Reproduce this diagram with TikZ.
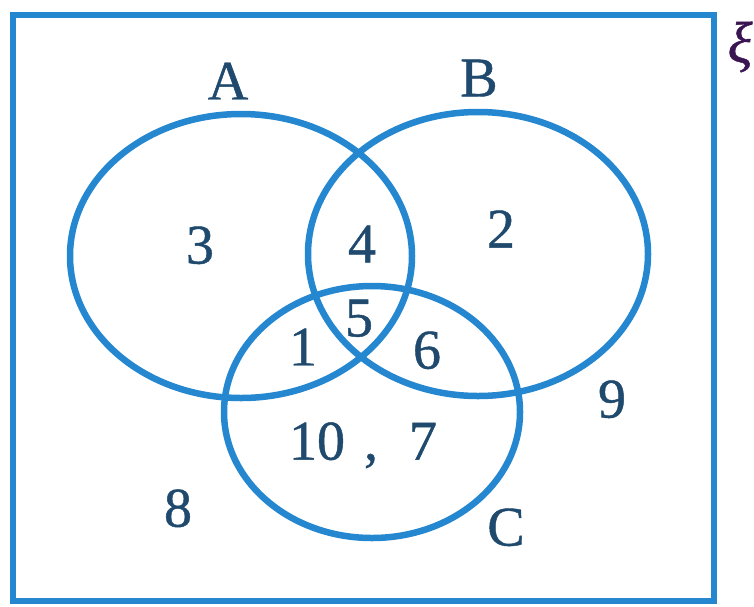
\documentclass[tikz,border=0pt]{standalone}
\usepackage{fontspec}
\setmainfont{Liberation Serif}
\newfontfamily\vennfont{Liberation Serif}[FakeBold=0.8]
\usepackage{xcolor}
\definecolor{vennblue}{HTML}{2487CF}
\definecolor{labelnavy}{HTML}{1F4A6E}
\definecolor{xipurple}{HTML}{3A1552}

\begin{document}
\begin{tikzpicture}[
  x=1pt, y=-1pt,
  setline/.style={draw=vennblue, line width=6.5pt},
  frame/.style={draw=vennblue, line width=6pt},
  lbl/.style={text=labelnavy, font=\vennfont\fontsize{56}{56}\selectfont, inner sep=0pt, text depth=0pt},
  setname/.style={text=labelnavy, font=\vennfont\fontsize{56}{56}\selectfont, inner sep=0pt, text depth=0pt}
]
\useasboundingbox (0,0) rectangle (754,606);

\draw[frame] (13,15) rectangle (714,601);

\draw[setline] (241,256) ellipse (171pt and 142pt);
\draw[setline] (478,254) ellipse (170pt and 142pt);
\draw[setline] (372,412) ellipse (148pt and 126pt);

\node[setname] (nameA) at (228,81) {A};
\node[setname] (nameB) at (479,78) {B};
\node[setname] (nameC) at (506,527) {C};
\node[text=xipurple, font=\vennfont\fontsize{58}{58}\selectfont\itshape, inner sep=0pt] (xi) at (740,47) {ξ};

\node[lbl] (onlyA) at (200,245) {3};
\node[lbl] (AB) at (362,244) {4};
\node[lbl] (onlyB) at (501,229) {2};
\node[lbl] (ABC) at (359,318) {5};
\node[lbl] (AC) at (303,347) {1};
\node[lbl] (BC) at (427,350) {6};
\node[lbl] (onlyC) at (363,441) {10\hspace{19pt},\hspace{31pt}7};
\node[lbl] (outR) at (612,399) {9};
\node[lbl] (outL) at (178,508) {8};

\end{tikzpicture}
\end{document}
